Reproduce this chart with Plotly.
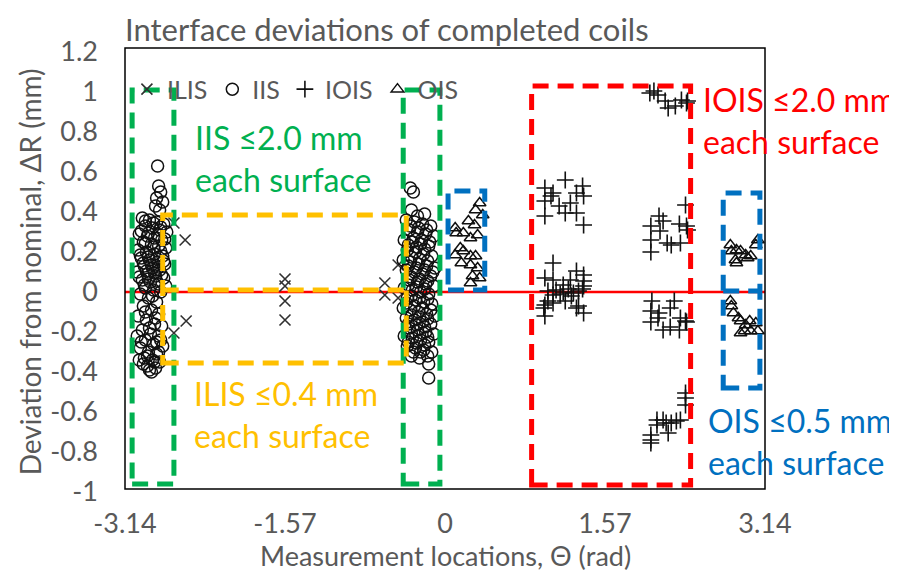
import plotly.graph_objects as go

# ---------------- data (theta in rad, deviation in mm) ----------------
ILIS = [(-2.66, 0.345), (-2.55, 0.26), (-2.54, -0.145), (-2.66, -0.205),
        (-1.57, 0.065), (-1.57, 0.03), (-1.57, -0.045), (-1.57, -0.14),
        (-0.46, 0.135), (-0.59, 0.045), (-0.59, -0.015), (-0.46, -0.03)]

IIS_LEFT = [(-2.82, 0.63), (-2.81, 0.53), (-2.79, 0.50), (-2.83, 0.47), (-2.77, 0.45), (-2.84, 0.43), (-2.80, 0.41),
            (-2.97, 0.37), (-2.90, 0.36), (-2.83, 0.35), (-2.76, 0.34), (-2.94, 0.33), (-2.87, 0.32), (-2.80, 0.31),
            (-2.73, 0.30), (-3.00, 0.29), (-2.92, 0.28), (-2.85, 0.27), (-2.78, 0.26), (-2.96, 0.25), (-2.88, 0.24),
            (-2.81, 0.23), (-2.74, 0.22), (-3.01, 0.21), (-2.93, 0.20), (-2.85, 0.19), (-2.77, 0.18), (-2.98, 0.17),
            (-2.90, 0.16), (-2.82, 0.15), (-2.75, 0.14), (-2.95, 0.13), (-2.87, 0.12), (-2.80, 0.11), (-3.02, 0.10),
            (-2.92, 0.09), (-2.84, 0.08), (-2.76, 0.07), (-2.97, 0.06), (-2.89, 0.05), (-2.81, 0.04), (-2.74, 0.03),
            (-2.94, 0.02), (-2.86, 0.01), (-2.79, 0.00), (-2.99, -0.01),
            (-2.94, 0.355), (-2.86, 0.345), (-2.79, 0.325), (-2.98, 0.305), (-2.91, 0.295), (-2.82, 0.285),
            (-2.75, 0.265), (-2.94, 0.245), (-2.86, 0.225), (-2.79, 0.205), (-2.99, 0.185), (-2.91, 0.175),
            (-2.83, 0.165), (-2.76, 0.155), (-2.96, 0.145), (-2.88, 0.135), (-2.81, 0.125), (-2.93, 0.105),
            (-2.85, 0.095), (-2.78, 0.085), (-3.00, 0.075), (-2.91, 0.065), (-2.83, 0.055), (-2.95, 0.035),
            (-2.91, -0.03), (-2.83, -0.05), (-2.96, -0.07), (-2.88, -0.09), (-2.81, -0.11), (-3.01, -0.12),
            (-2.93, -0.14), (-2.85, -0.16), (-2.78, -0.17), (-2.97, -0.19), (-2.89, -0.21), (-2.81, -0.22),
            (-2.94, -0.24), (-2.86, -0.26), (-2.77, -0.27), (-2.99, -0.28), (-2.91, -0.30), (-2.83, -0.31),
            (-2.95, -0.33), (-2.87, -0.34), (-2.80, -0.35), (-2.92, -0.37), (-2.84, -0.38), (-2.96, -0.36),
            (-2.88, -0.40), (-2.81, -0.30), (-3.02, -0.22),
            (-2.87, -0.02), (-2.94, -0.10), (-2.84, -0.13), (-2.90, -0.18), (-2.98, -0.25), (-2.83, -0.25),
            (-2.92, -0.32), (-2.85, -0.35), (-2.90, -0.39), (-2.79, -0.24), (-3.00, -0.34)]

IIS_RIGHT = [(-0.34, 0.52), (-0.31, 0.50), (-0.33, 0.41), (-0.27, 0.38), (-0.20, 0.39),
             (-0.38, 0.36), (-0.30, 0.35), (-0.22, 0.34), (-0.14, 0.33), (-0.35, 0.31), (-0.27, 0.30),
             (-0.19, 0.29), (-0.11, 0.28), (-0.40, 0.26), (-0.32, 0.25), (-0.24, 0.24), (-0.16, 0.23),
             (-0.37, 0.21), (-0.29, 0.20), (-0.21, 0.19), (-0.13, 0.18), (-0.41, 0.16), (-0.34, 0.15),
             (-0.26, 0.14), (-0.18, 0.13), (-0.10, 0.12), (-0.38, 0.11), (-0.30, 0.10), (-0.22, 0.09),
             (-0.14, 0.08), (-0.35, 0.06), (-0.27, 0.05), (-0.19, 0.04), (-0.11, 0.03), (-0.40, 0.02),
             (-0.32, 0.01), (-0.24, 0.00), (-0.16, -0.01), (-0.37, -0.03), (-0.29, -0.04), (-0.21, -0.05),
             (-0.13, -0.06), (-0.41, -0.08), (-0.34, -0.09), (-0.26, -0.10), (-0.18, -0.11), (-0.10, -0.12),
             (-0.38, -0.13), (-0.30, -0.14), (-0.22, -0.15), (-0.14, -0.16), (-0.35, -0.18), (-0.27, -0.19),
             (-0.19, -0.20), (-0.11, -0.21), (-0.40, -0.22), (-0.32, -0.23), (-0.24, -0.24), (-0.16, -0.25),
             (-0.37, -0.27), (-0.29, -0.28), (-0.21, -0.29), (-0.13, -0.30), (-0.33, -0.32), (-0.25, -0.33),
             (-0.17, -0.32), (-0.16, -0.36), (-0.16, -0.43),
             (-0.34, 0.33), (-0.26, 0.32), (-0.18, 0.31), (-0.31, 0.27), (-0.23, 0.26), (-0.15, 0.25),
             (-0.36, 0.235), (-0.28, 0.225), (-0.20, 0.215), (-0.33, 0.175), (-0.25, 0.165), (-0.17, 0.155),
             (-0.36, 0.13), (-0.28, 0.12), (-0.20, 0.11), (-0.12, 0.10), (-0.33, 0.075), (-0.25, 0.065),
             (-0.17, 0.055), (-0.36, 0.035), (-0.28, 0.025), (-0.20, 0.015), (-0.33, -0.02), (-0.25, -0.03),
             (-0.17, -0.035), (-0.38, -0.055), (-0.30, -0.07), (-0.22, -0.08), (-0.14, -0.09), (-0.33, -0.115),
             (-0.25, -0.125), (-0.17, -0.135), (-0.36, -0.16), (-0.28, -0.165), (-0.20, -0.175), (-0.33, -0.205),
             (-0.25, -0.215), (-0.17, -0.225), (-0.36, -0.25), (-0.28, -0.255), (-0.20, -0.265), (-0.24, -0.30),
             (-0.31, -0.30)]

IOIS = [(1.18, 0.56), (0.98, 0.52), (1.06, 0.495), (0.98, 0.455), (1.35, 0.53), (1.29, 0.495), (1.36, 0.48),
        (1.12, 0.43), (1.23, 0.445), (1.18, 0.395), (1.29, 0.395), (0.98, 0.38), (1.36, 0.335), (1.04, 0.48),
        (1.06, 0.145), (0.98, 0.07), (1.06, 0.06), (1.29, 0.105), (1.36, 0.085), (1.36, 0.055), (1.36, 0.03),
        (1.23, 0.06), (1.16, 0.035), (1.01, 0.005), (1.09, 0.01), (1.16, 0.0), (1.21, 0.015), (1.26, -0.005),
        (1.31, 0.005), (1.35, 0.015), (1.06, -0.015), (1.13, -0.01), (1.24, -0.02),
        (0.98, -0.065), (0.97, -0.08), (0.98, -0.12), (1.06, -0.055), (1.18, -0.045), (1.29, -0.08),
        (1.36, -0.105), (1.31, -0.07), (1.01, -0.045),
        (2.01, 0.995), (2.09, 0.985), (2.16, 0.955), (2.19, 0.92), (2.26, 0.93), (2.32, 0.96), (2.37, 0.945),
        (2.38, 0.955), (2.05, 1.005),
        (2.36, 0.435), (2.10, 0.38), (2.14, 0.355), (2.02, 0.33), (2.11, 0.305), (2.30, 0.34), (2.37, 0.33),
        (2.38, 0.31), (2.02, 0.26), (2.18, 0.245), (2.22, 0.235), (2.31, 0.245), (2.02, 0.20),
        (2.03, -0.045), (2.02, -0.095), (2.10, -0.105), (2.02, -0.15), (2.09, -0.13), (2.14, -0.19),
        (2.21, -0.175), (2.21, -0.08), (2.25, -0.045), (2.30, -0.19), (2.31, -0.13), (2.36, -0.145),
        (2.37, -0.15),
        (2.36, -0.505), (2.36, -0.53), (2.36, -0.565), (2.08, -0.64), (2.14, -0.64), (2.17, -0.655),
        (2.22, -0.655), (2.27, -0.645), (2.31, -0.64), (2.08, -0.665), (2.19, -0.705), (2.02, -0.715),
        (2.02, -0.74), (2.02, -0.755)]

OIS = [(0.34, 0.445), (0.30, 0.41), (0.37, 0.385), (0.23, 0.355), (0.10, 0.32), (0.18, 0.295), (0.29, 0.335),
       (0.32, 0.285), (0.25, 0.27), (0.11, 0.295), (0.15, 0.22), (0.10, 0.185), (0.18, 0.205), (0.25, 0.18),
       (0.16, 0.145), (0.30, 0.18), (0.25, 0.135), (0.32, 0.12), (0.27, 0.08), (0.25, 0.045), (0.34, 0.07),
       (2.80, 0.235), (2.81, 0.205), (2.86, 0.21), (2.90, 0.205), (2.85, 0.16), (2.95, 0.185), (3.00, 0.18),
       (3.05, 0.235), (2.86, 0.145), (2.97, 0.17), (3.07, 0.26),
       (2.80, -0.045), (2.81, -0.07), (2.83, -0.105), (2.88, -0.13), (2.90, -0.145), (2.95, -0.165),
       (2.99, -0.145), (2.90, -0.205), (3.00, -0.195), (3.05, -0.155), (2.94, -0.195), (3.07, -0.195)]

X_TICKS = [-3.14, -1.57, 0, 1.57, 3.14]
X_TICK_TEXT = ["-3.14", "-1.57", "0", "1.57", "3.14"]
Y_TICKS = [1.2, 1.0, 0.8, 0.6, 0.4, 0.2, 0.0, -0.2, -0.4, -0.6, -0.8, -1.0]
Y_TICK_TEXT = ["1.2", "1", "0.8", "0.6", "0.4", "0.2", "0", "-0.2", "-0.4", "-0.6", "-0.8", "-1"]

# tolerance boxes (theta0, theta1, dev0, dev1)
BOX_GREEN_1 = (-3.07, -2.66, -0.96, 1.01)
BOX_GREEN_2 = (-0.41, -0.05, -0.96, 1.01)
BOX_ORANGE = (-2.77, -0.38, -0.355, 0.385)
BOX_BLUE_1 = (0.03, 0.39, 0.01, 0.505)
BOX_BLUE_2 = (2.73, 3.09, -0.48, 0.495)
BOX_RED = (0.85, 2.41, -0.965, 1.03)

FONT = "Lato, 'Open Sans', sans-serif"
GRAY = "#595959"
GREEN, ORANGE, RED, BLUE = "#00B050", "#FFC000", "#FF0000", "#0070C0"


def unzip(pts):
    return [p[0] for p in pts], [p[1] for p in pts]


fig = go.Figure()

ix, iy = unzip(ILIS)
fig.add_trace(go.Scatter(x=ix, y=iy, mode="markers", name="ILIS",
                         marker=dict(symbol="x-thin-open", size=11, color="#303030",
                                     line=dict(width=1.6, color="#303030"))))
sx, sy = unzip(IIS_LEFT + IIS_RIGHT)
fig.add_trace(go.Scatter(x=sx, y=sy, mode="markers", name="IIS",
                         marker=dict(symbol="circle-open", size=12, color="#111111",
                                     line=dict(width=1.5, color="#111111"))))
ox, oy = unzip(IOIS)
fig.add_trace(go.Scatter(x=ox, y=oy, mode="markers", name="IOIS",
                         marker=dict(symbol="cross-thin-open", size=12, color="#111111",
                                     line=dict(width=1.6, color="#111111"))))
tx, ty = unzip(OIS)
fig.add_trace(go.Scatter(x=tx, y=ty, mode="markers", name="OIS",
                         marker=dict(symbol="triangle-up-open", size=11, color="#111111",
                                     line=dict(width=1.5, color="#111111"))))

shapes = []
# zero reference line
shapes.append(dict(type="line", xref="paper", yref="y", x0=0, x1=1, y0=0, y1=0,
                   line=dict(color=RED, width=2.5), layer="below"))
# outer frame
shapes.append(dict(type="rect", xref="paper", yref="paper", x0=0, x1=1, y0=0.007, y1=1.009,
                   line=dict(color="black", width=1.5)))

DASH = "16px,9px"


def box(b, color):
    return dict(type="rect", xref="x", yref="y", x0=b[0], x1=b[1], y0=b[2], y1=b[3],
                line=dict(color=color, width=5, dash=DASH), layer="above")


shapes += [box(BOX_GREEN_1, GREEN), box(BOX_GREEN_2, GREEN), box(BOX_ORANGE, ORANGE),
           box(BOX_BLUE_1, BLUE), box(BOX_BLUE_2, BLUE), box(BOX_RED, RED)]
shapes.append(dict(type="line", xref="x", yref="y", x0=BOX_ORANGE[0], x1=BOX_ORANGE[1], y0=0.01, y1=0.01,
                   line=dict(color=ORANGE, width=5, dash=DASH), layer="above"))
shapes.append(dict(type="line", xref="x", yref="y", x0=BOX_BLUE_2[0], x1=BOX_BLUE_2[1], y0=0.005, y1=0.005,
                   line=dict(color=BLUE, width=5, dash=DASH), layer="above"))

ann_font = 32
annotations = [
    dict(x=-2.47, y=0.67, text="IIS ≤2.0 mm<br>each surface", font=dict(color=GREEN, size=ann_font, family=FONT)),
    dict(x=-2.48, y=-0.61, text="ILIS ≤0.4 mm<br>each surface", font=dict(color=ORANGE, size=ann_font, family=FONT)),
    dict(x=2.51, y=0.86, text="IOIS ≤2.0 mm<br>each surface", font=dict(color=RED, size=ann_font, family=FONT)),
    dict(x=2.56, y=-0.745, text="OIS ≤0.5 mm<br>each surface", font=dict(color=BLUE, size=ann_font, family=FONT)),
]
for a in annotations:
    a.update(xref="x", yref="y", xanchor="left", yanchor="middle", align="left", showarrow=False)

# axis titles and chart title
annotations.append(dict(xref="paper", yref="paper", x=-0.148, y=0.5, xanchor="center", yanchor="middle",
                        text="Deviation from nominal, ΔR (mm)", textangle=-90, showarrow=False,
                        font=dict(size=28, color=GRAY, family=FONT)))
annotations.append(dict(xref="paper", yref="paper", x=0.5, y=-0.145, xanchor="center", yanchor="middle",
                        text="Measurement locations, Θ (rad)", showarrow=False,
                        font=dict(size=27, color=GRAY, family=FONT)))
annotations.append(dict(xref="paper", yref="paper", x=-0.003, y=484 / 440, xanchor="left", yanchor="top",
                        text="Interface deviations of completed coils", showarrow=False,
                        font=dict(size=31, color=GRAY, family=FONT)))

fig.update_layout(
    width=897, height=573,
    margin=dict(l=117, r=140, t=44, b=89),
    paper_bgcolor="white", plot_bgcolor="white",
    font=dict(family=FONT, color=GRAY),
    shapes=shapes, annotations=annotations,
    showlegend=True,
    legend=dict(orientation="h", x=0.003, y=0.915, xanchor="left", yanchor="middle",
                font=dict(size=25, color=GRAY, family=FONT), bgcolor="rgba(0,0,0,0)",
                itemwidth=30, tracegroupgap=0),
    xaxis=dict(range=[-3.14, 3.14], tickvals=X_TICKS, ticktext=X_TICK_TEXT, showgrid=False,
               zeroline=False, showline=False, ticks="", ticklabelstandoff=13,
               tickfont=dict(size=27, color=GRAY, family=FONT)),
    yaxis=dict(range=[-1.0, 1.2], tickvals=Y_TICKS, ticktext=Y_TICK_TEXT, showgrid=False,
               zeroline=False, showline=False, ticks="", ticklabelstandoff=26,
               tickfont=dict(size=27, color=GRAY, family=FONT)),
)

fig.write_html("out.html")
